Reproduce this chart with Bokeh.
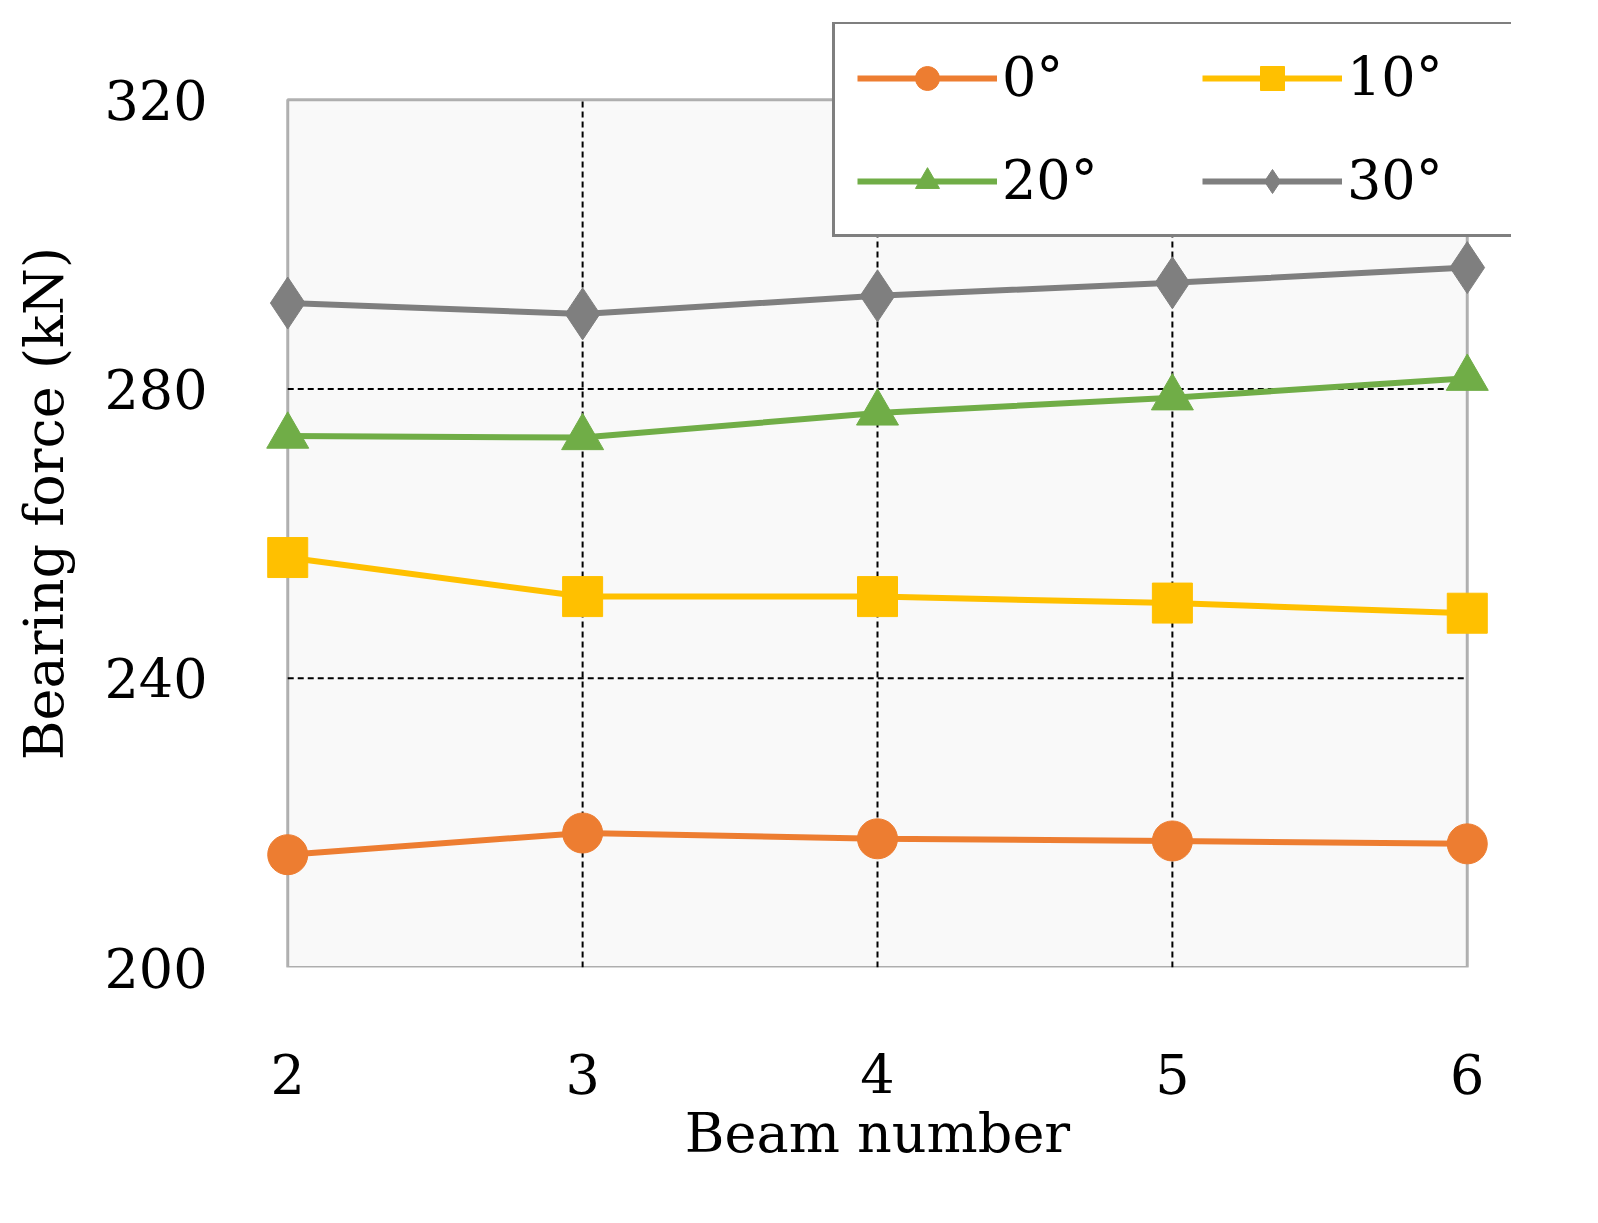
from bokeh.plotting import figure
from bokeh.models import Legend, LegendItem, Range1d, FixedTicker, BoxAnnotation
from bokeh.embed import file_html
from bokeh.resources import INLINE

beams = [2, 3, 4, 5, 6]
s0 = [215.6, 218.6, 217.8, 217.5, 217.1]
s10 = [256.7, 251.3, 251.3, 250.4, 249.0]
s20 = [273.5, 273.3, 276.7, 278.8, 281.5]
s30 = [291.9, 290.4, 292.9, 294.7, 296.8]
names = ["0°", "10°", "20°", "30°"]
yticks = [200, 240, 280, 320]

F = "DejaVu Serif"
p = figure(output_backend="svg", toolbar_location=None, frame_width=1268, frame_height=945,
           min_border_left=243, min_border_top=22, min_border_right=40, min_border_bottom=200,
           x_range=Range1d(1.85, 6.15), y_range=Range1d(200, 330.7),
           background_fill_color="white")
p.outline_line_color = None
p.xgrid.visible = False
p.ygrid.visible = False
for ax in (p.xaxis, p.yaxis):
    ax.axis_line_color = None
    ax.major_tick_line_color = None
    ax.minor_tick_line_color = None
    ax.major_label_text_font = F
    ax.major_label_text_font_size = "54px"
    ax.major_label_text_color = "black"
    ax.axis_label_text_font = F
    ax.axis_label_text_font_size = "54px"
    ax.axis_label_text_color = "black"
    ax.axis_label_text_font_style = "normal"
p.xaxis.ticker = FixedTicker(ticks=beams)
p.yaxis.ticker = FixedTicker(ticks=yticks)
p.xaxis.major_label_standoff = 80
p.yaxis.major_label_standoff = 30
p.xaxis.axis_label = "Beam number"
p.xaxis.axis_label_standoff = 5
p.yaxis.axis_label = "Bearing force  (kN)"
p.yaxis.axis_label_standoff = 25

p.add_layout(BoxAnnotation(left=2, right=6, bottom=200, top=320, fill_color="#f9f9f9",
                           fill_alpha=1, line_color="black", line_width=3, level="underlay"))
p.segment(x0=beams[1:4], y0=[200] * 3, x1=beams[1:4], y1=[320] * 3,
          line_color="black", line_dash="6 4", line_width=2)
p.segment(x0=[2, 2], y0=yticks[1:3], x1=[6, 6], y1=yticks[1:3],
          line_color="black", line_dash="6 4", line_width=2)

rend = []
cfg = [(s0, "#ED7D31", "circle", 40), (s10, "#FFC000", "square", 40),
       (s20, "#70AD47", "triangle", 42), (s30, "#7F7F7F", "diamond", 52)]
for (ys, c, m, sz), n in zip(cfg, names):
    l = p.line(beams, ys, line_color=c, line_width=6)
    s = p.scatter(beams, ys, marker=m, size=sz, fill_color=c, line_color=c)
    rend.append(LegendItem(label=n, renderers=[l, s]))
items = [rend[0], rend[2], rend[1], rend[3]]

leg = Legend(items=items, ncols=2, location=(589, 730), label_text_font=F,
             label_text_font_size="54px", label_text_color="black",
             glyph_width=140, glyph_height=60,
             border_line_color="black", border_line_width=3, background_fill_alpha=1,
             padding=22, spacing=40, margin=0, label_standoff=5, label_width=160)
p.add_layout(leg, "center")

open("out.html", "w").write(file_html(p, INLINE))
